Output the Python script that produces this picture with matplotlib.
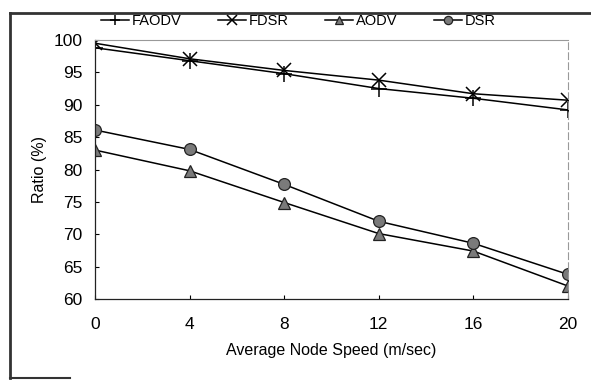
import matplotlib
matplotlib.use("Agg")
import matplotlib.pyplot as plt
from matplotlib.lines import Line2D

plt.rcParams['font.family'] = ['Liberation Sans', 'DejaVu Sans']

speeds = [0, 4, 8, 12, 16, 20]
faodv = [98.8, 96.8, 94.8, 92.5, 91.0, 89.2]
fdsr = [99.5, 97.1, 95.3, 93.8, 91.7, 90.7]
aodv = [83.0, 79.8, 74.9, 70.1, 67.4, 62.0]
dsr = [86.1, 83.1, 77.7, 72.0, 68.6, 63.8]
yticks = [60, 65, 70, 75, 80, 85, 90, 95, 100]

W, H = 591, 382
fig = plt.figure(figsize=(W / 100, H / 100), dpi=100)
ax = fig.add_axes([95 / W, 1 - 299 / H, (568 - 95) / W, (299 - 40) / H])

ax.plot(speeds, faodv, color='black', lw=1.1, marker='+', ms=11, mew=1.1, label='FAODV')
ax.plot(speeds, fdsr, color='black', lw=1.1, marker='x', ms=10, mew=1.1, label='FDSR')
ax.plot(speeds, aodv, color='black', lw=1.1, marker='^', ms=8, mfc='#7a7a7a', mec='#222222', mew=0.9, label='AODV')
ax.plot(speeds, dsr, color='black', lw=1.1, marker='o', ms=8.5, mfc='#7a7a7a', mec='#222222', mew=0.9, label='DSR')

ax.set_xlim(0, 20)
ax.set_ylim(60, 100)
ax.set_xticks(speeds)
ax.set_yticks(yticks)
ax.tick_params(direction='in', length=3, width=0.8, labelsize=12.5, pad=9)
ax.tick_params(axis='x', pad=13)
for s in ['left', 'bottom']:
    ax.spines[s].set_color('#222222')
    ax.spines[s].set_linewidth(0.9)
ax.spines['top'].set_color('#999999')
ax.spines['top'].set_linewidth(0.8)
ax.spines['right'].set_color('#999999')
ax.spines['right'].set_linewidth(0.8)
ax.spines['right'].set_linestyle((0, (6, 3)))

ax.set_xlabel('Average Node Speed (m/sec)', fontsize=11.5, labelpad=8)
ax.set_ylabel('Ratio (%)', fontsize=11.5, labelpad=5)

fig.legend(loc='center', bbox_to_anchor=(0.505, 1 - 21 / H), ncol=4, frameon=False,
           fontsize=10.5, handlelength=1.9, columnspacing=2.5, handletextpad=0.2,
           markerscale=0.7, borderaxespad=0)

# scanned page border
fig.add_artist(Line2D([10 / W, 1.0], [1 - 13 / H] * 2, transform=fig.transFigure, color='#333333', lw=2))
fig.add_artist(Line2D([10 / W] * 2, [1 - 13 / H, 1 - 378 / H], transform=fig.transFigure, color='#333333', lw=2))
fig.add_artist(Line2D([10 / W, 70 / W], [1 - 378 / H] * 2, transform=fig.transFigure, color='#333333', lw=1.5))

fig.savefig('out.png', dpi=100)
